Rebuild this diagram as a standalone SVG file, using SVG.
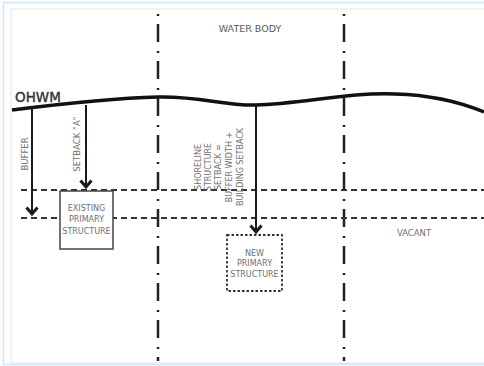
<svg xmlns="http://www.w3.org/2000/svg" width="484" height="366" viewBox="0 0 484 366">
<defs>
<style>
.lbl{font-family:"DejaVu Sans","Liberation Sans",sans-serif;fill:#707070;font-size:8px;text-anchor:middle;dominant-baseline:central}
.dd{stroke:#222;stroke-width:2.5;fill:none;stroke-dasharray:2 8 18 9}
.hd{stroke:#333;stroke-width:2;fill:none;stroke-dasharray:6 4}
.arr{stroke:#1a1a1a;stroke-width:2;fill:none}
.head{stroke:#1a1a1a;stroke-width:3;fill:none;stroke-linejoin:miter}
</style>
</defs>
<rect x="0" y="0" width="484" height="366" fill="#fff"/>
<rect x="3.5" y="2.5" width="486" height="362" fill="none" stroke="#cfe6fb" stroke-width="1.5"/>
<rect x="11" y="9" width="480" height="354" fill="none" stroke="#e6e6e6" stroke-width="1"/>

<g id="reference-lines">
<line class="dd" x1="158" y1="14" x2="158" y2="361"/>
<line class="dd" x1="344" y1="14" x2="344" y2="361"/>
<line class="hd" x1="21" y1="190" x2="484" y2="190"/>
<line class="hd" x1="21" y1="218" x2="484" y2="218"/>
</g>

<g id="ohwm">
<path d="M12,110 C60,104 120,98 158,97 C200,96 225,106 256,105 C300,104 350,92 395,94 C432,95 460,102 484,112" fill="none" stroke="#111" stroke-width="3.5"/>
<text x="15" y="102" font-family="'DejaVu Sans','Liberation Sans',sans-serif" font-size="13.5" fill="#333" stroke="#333" stroke-width="0.4">OHWM</text>
</g>

<g id="water-body"><text class="lbl" x="250" y="28" style="font-size:9.5px;fill:#5a5a5a">WATER BODY</text></g>
<g id="vacant"><text class="lbl" x="414" y="233" style="font-size:8.5px">VACANT</text></g>

<g id="existing-primary-structure">
<rect x="60" y="191" width="53" height="58" fill="#fff" stroke="#444" stroke-width="1.5"/>
<text class="lbl" x="86.5" y="208">EXISTING</text>
<text class="lbl" x="86.5" y="219.5">PRIMARY</text>
<text class="lbl" x="86.5" y="231">STRUCTURE</text>
</g>

<g id="new-primary-structure">
<rect x="227" y="235" width="55" height="56" fill="#fff" stroke="#333" stroke-width="1.8" stroke-dasharray="2.5 2"/>
<text class="lbl" x="254.5" y="253">NEW</text>
<text class="lbl" x="254.5" y="263.5">PRIMARY</text>
<text class="lbl" x="254.5" y="274">STRUCTURE</text>
</g>

<g id="connectors">
<line class="arr" x1="32" y1="109" x2="32" y2="214"/>
<polyline class="head" points="26.5,207.5 32,214 37.5,207.5"/>
<line class="arr" x1="86" y1="105" x2="86" y2="187"/>
<polyline class="head" points="80.5,180.5 86,187 91.5,180.5"/>
<line class="arr" x1="256" y1="105" x2="256" y2="232"/>
<polyline class="head" points="250.5,225.5 256,232 261.5,225.5"/>
</g>

<g id="buffer-label"><text class="lbl" transform="translate(25,154) rotate(-90)" style="font-size:8.5px">BUFFER</text></g>
<g id="setback-label"><text class="lbl" transform="translate(77,144) rotate(-90)" style="font-size:8.5px">SETBACK "A"</text></g>
<g id="shoreline-label">
<text class="lbl" transform="translate(198,167) rotate(-90)">SHORELINE</text>
<text class="lbl" transform="translate(208,167) rotate(-90)">STRUCTURE</text>
<text class="lbl" transform="translate(218,167) rotate(-90)">SETBACK =</text>
<text class="lbl" transform="translate(229,167) rotate(-90)">BUFFER WIDTH +</text>
<text class="lbl" transform="translate(240,167) rotate(-90)">BUILDING SETBACK</text>
</g>
</svg>
